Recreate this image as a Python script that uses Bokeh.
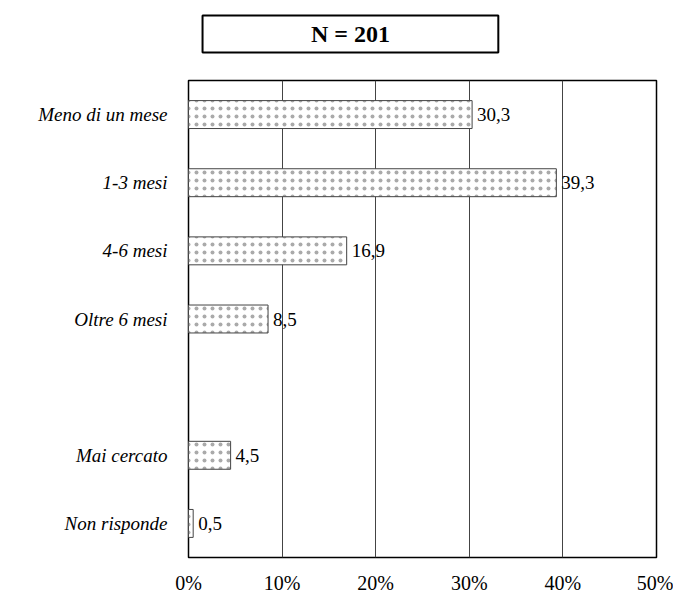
from bokeh.plotting import figure
from bokeh.models import FactorRange, Range1d, FixedTicker, PrintfTickFormatter, ColumnDataSource, LabelSet
from bokeh.layouts import column
from bokeh.embed import file_html
from bokeh.resources import INLINE
from bokeh.core.properties import value

categories = ["Meno di un mese", "1-3 mesi", "4-6 mesi", "Oltre 6 mesi", " ", "Mai cercato", "Non risponde"]
bar_categories = ["Meno di un mese", "1-3 mesi", "4-6 mesi", "Oltre 6 mesi", "Mai cercato", "Non risponde"]
values = [30.3, 39.3, 16.9, 8.5, 4.5, 0.5]
x_ticks = [0, 10, 20, 30, 40, 50]
title_text = "N = 201"

FONT = "Liberation Serif"

# --- title box figure ---
top = figure(width=673, height=72, x_range=Range1d(0, 50), y_range=Range1d(0, 72),
             output_backend="svg", toolbar_location=None,
             min_border_left=188, min_border_right=17, min_border_top=0, min_border_bottom=0)
top.axis.visible = False
top.grid.visible = False
top.outline_line_color = None
top.quad(left=[1.5], right=[33.1], bottom=[20], top=[57], fill_color="white",
         line_color="black", line_width=2)
top.text(x=[17.3], y=[38.5], text=[title_text], text_font=value(FONT), text_font_size="24px",
         text_font_style="bold", text_align="center", text_baseline="middle", text_color="black")

# --- main chart ---
p = figure(width=673, height=525, y_range=FactorRange(factors=list(reversed(categories))),
           x_range=Range1d(0, 50), output_backend="svg", toolbar_location=None,
           min_border_left=188, min_border_right=17, min_border_top=8, min_border_bottom=40)

src = ColumnDataSource(dict(cat=bar_categories, val=values,
                            lab=[f"{v:.1f}".replace(".", ",") for v in values]))
p.hbar(y="cat", right="val", left=0, height=0.41, source=src, fill_color="white",
       line_color="#444444", line_width=1, hatch_pattern="dot", hatch_scale=8,
       hatch_color="#aaaaaa", hatch_weight=1)
labels = LabelSet(x="val", y="cat", text="lab", source=src, x_offset=5,
                  text_font=FONT, text_font_size="19px", text_baseline="middle",
                  text_color="black")
p.add_layout(labels)

p.xaxis.ticker = FixedTicker(ticks=x_ticks)
p.xaxis.formatter = PrintfTickFormatter(format="%d%%")
p.xaxis.axis_line_color = None
p.xaxis.major_tick_line_color = None
p.xaxis.minor_tick_line_color = None
p.xaxis.major_label_text_font = FONT
p.xaxis.major_label_text_font_size = "20px"
p.xaxis.major_label_text_color = "black"
p.xaxis.major_label_standoff = 8

p.yaxis.axis_line_color = None
p.yaxis.major_tick_line_color = None
p.yaxis.major_label_text_font = FONT
p.yaxis.major_label_text_font_style = "italic"
p.yaxis.major_label_text_font_size = "19px"
p.yaxis.major_label_text_color = "black"
p.yaxis.major_label_standoff = 15

p.ygrid.grid_line_color = None
p.xgrid.grid_line_color = "#444444"
p.xgrid.grid_line_width = 1
p.outline_line_color = "black"
p.outline_line_width = 1.5

layout = column(top, p, spacing=0)
open("out.html", "w").write(file_html(layout, INLINE))
